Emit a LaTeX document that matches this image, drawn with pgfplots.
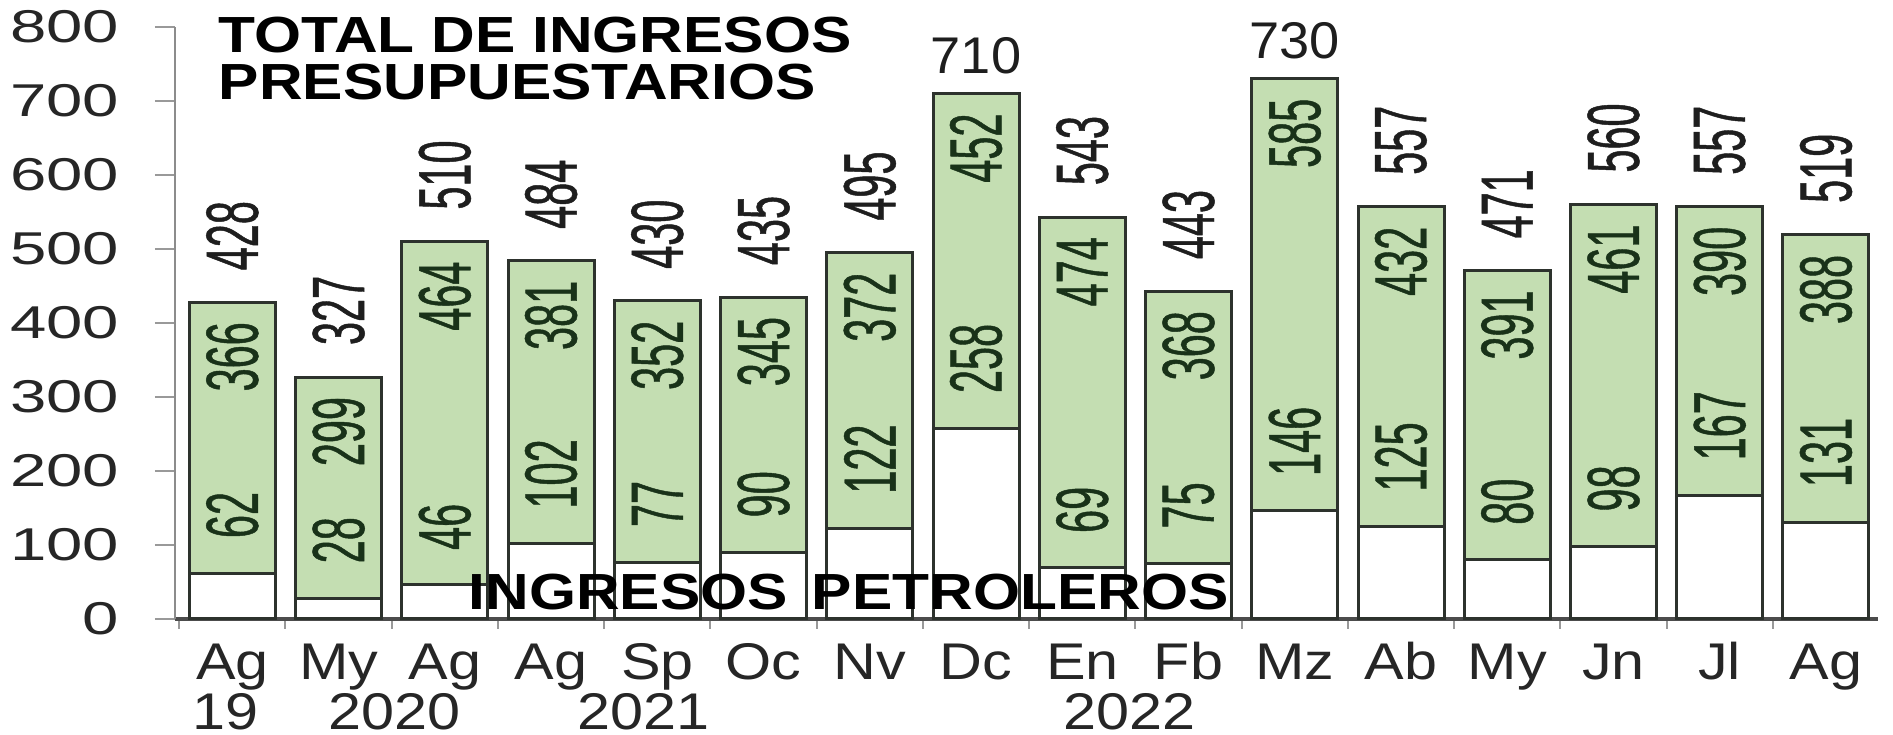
\documentclass[border=0pt]{standalone}
\usepackage{pgfplots}
\pgfplotsset{compat=1.18}
\usepackage{pgfplotstable}
\usepackage{fontspec}
\setmainfont{Liberation Sans}
\newfontfamily\ytickfam[FakeStretch=1.42]{Liberation Sans}
\newfontfamily\xlabfam[FakeStretch=1.15]{Liberation Sans}
\newfontfamily\titlefam[FakeStretch=1.19]{Liberation Sans}
\newfontfamily\rotfam[FakeStretch=0.56, FakeBold=0.6]{Liberation Sans}
\newfontfamily\upfam[FakeStretch=1.05]{Liberation Sans}
\newcommand\ytickfont{\ytickfam\fontsize{11.5}{13}\selectfont}
\newcommand\xlabfont{\xlabfam\fontsize{12.9}{14}\selectfont}
\newcommand\titlefont{\titlefam\bfseries\fontsize{12.7}{14}\selectfont}
\newcommand\rotfont{\rotfam\fontsize{18.5}{20}\selectfont}
\newcommand\upfont{\upfam\fontsize{12.9}{14}\selectfont}
\definecolor{barGreen}{RGB}{196,222,178}
\definecolor{barEdge}{RGB}{45,50,45}
\definecolor{labelDark}{RGB}{30,30,30}
\definecolor{inDark}{RGB}{25,50,25}

\pgfplotstableread{
x total pet nonpet
0 428 62 366
1 327 28 299
2 510 46 464
3 484 102 381
4 430 77 352
5 435 90 345
6 495 122 372
7 710 258 452
8 543 69 474
9 443 75 368
10 730 146 585
11 557 125 432
12 471 80 391
13 560 98 461
14 557 167 390
15 519 131 388
}\datatable

\begin{document}
\begin{tikzpicture}
\useasboundingbox (-43.75pt,-29pt) rectangle (429.5pt,154.75pt);
\begin{axis}[
  scale only axis, width=425.75pt, height=148pt,
  xmin=-0.54, xmax=15.49, ymin=0, ymax=800,
  axis x line*=bottom, axis y line*=left,
  x axis line style={-, draw=black!70, line width=0.8pt},
  y axis line style={-, draw=black!45, line width=0.6pt},
  xtick={0,...,15},
  xticklabels={Ag,My,Ag,Ag,Sp,Oc,Nv,Dc,En,Fb,Mz,Ab,My,Jn,Jl,Ag},
  minor xtick={-0.5,0.5,...,14.5},
  major x tick style={draw=none},
  minor x tick style={draw=black!40, line width=0.5pt},
  ytick={0,100,...,800},
  y tick style={draw=black!40, line width=0.6pt},
  tick align=outside, major tick length=5pt, minor tick length=2.5pt,
  yticklabel style={font=\ytickfont, text=black!85, anchor=east, inner sep=0pt, xshift=-8.75pt},
  xticklabel style={font=\xlabfont, text=black!85, anchor=base, inner sep=0pt, yshift=-10.25pt},
  /pgf/number format/assume math mode=true,
  clip=false,
]
\addplot[ybar, bar width=21.5pt, bar shift=0pt, fill=barGreen, draw=barEdge, line width=0.75pt]
  table[x=x, y=total] {\datatable};
\addplot[ybar, bar width=21.5pt, bar shift=0pt, fill=white, draw=barEdge, line width=0.75pt]
  table[x=x, y=pet] {\datatable};
% totals (rotated)
\addplot[draw=none, mark=none, point meta=explicit symbolic, nodes near coords,
  nodes near coords style={font=\rotfont, text=labelDark, rotate=90, anchor=west, inner sep=0pt, outer xsep=8pt}]
  coordinates {(0,428)[428] (1,327)[327] (2,510)[510] (3,484)[484] (4,430)[430] (5,435)[435] (6,495)[495]
    (8,543)[543] (9,443)[443] (11,557)[557] (12,471)[471] (13,560)[560] (14,557)[557] (15,519)[519]};
% totals (upright)
\addplot[draw=none, mark=none, point meta=explicit symbolic, nodes near coords,
  nodes near coords style={font=\upfont, text=labelDark, anchor=south, inner sep=0pt, outer ysep=5pt}]
  coordinates {(7,710)[710] (10,730)[730]};
% non-oil values
\addplot[draw=none, mark=none, point meta=explicit symbolic, nodes near coords,
  nodes near coords style={font=\rotfont, text=inDark, rotate=90, anchor=east, inner sep=0pt, outer xsep=5pt}]
  table[x=x, y=total, meta=nonpet] {\datatable};
% oil values
\addplot[draw=none, mark=none, point meta=explicit symbolic, nodes near coords,
  nodes near coords style={font=\rotfont, text=inDark, rotate=90, anchor=west, inner sep=0pt, outer xsep=8.75pt}]
  table[x=x, y=pet, meta=pet] {\datatable};
% titles
\node[font=\titlefont, inner sep=0pt, anchor=base west, xshift=10.75pt, yshift=-6.5pt] at (rel axis cs:0,1) {TOTAL DE INGRESOS};
\node[font=\titlefont, inner sep=0pt, anchor=base west, xshift=10.75pt, yshift=-18.25pt] at (rel axis cs:0,1) {PRESUPUESTARIOS};
\node[font=\titlefont, inner sep=0pt, anchor=base west, xshift=73.25pt, yshift=2.25pt] at (rel axis cs:0,0) {INGRESOS\hspace{6pt}PETROLEROS};
% years
\node[font=\xlabfont, text=black!85, inner sep=0pt, anchor=base, yshift=-27.6pt] at (axis cs:-0.06,0) {19};
\node[font=\xlabfont, text=black!85, inner sep=0pt, anchor=base, yshift=-27.6pt] at (axis cs:1.53,0) {2020};
\node[font=\xlabfont, text=black!85, inner sep=0pt, anchor=base, yshift=-27.6pt] at (axis cs:3.87,0) {2021};
\node[font=\xlabfont, text=black!85, inner sep=0pt, anchor=base, yshift=-27.6pt] at (axis cs:8.44,0) {2022};
\end{axis}
\end{tikzpicture}
\end{document}
